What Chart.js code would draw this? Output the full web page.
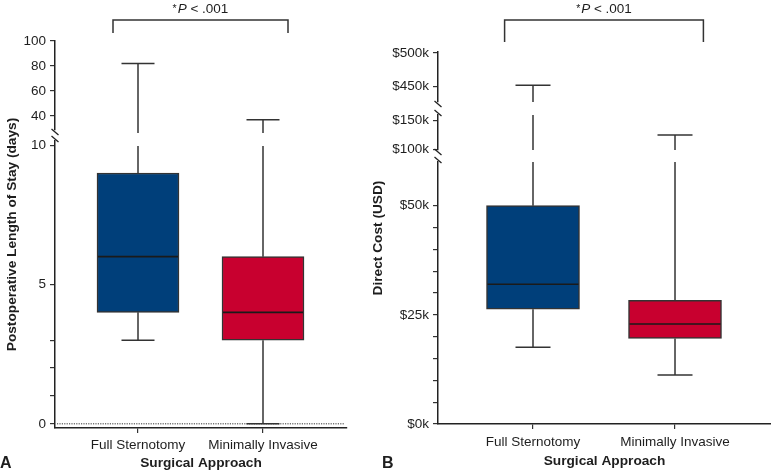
<!DOCTYPE html>
<html><head><meta charset="utf-8">
<script src="https://cdn.jsdelivr.net/npm/chart.js@4"></script>
<style>
html,body{margin:0;padding:0;background:#fff;overflow:hidden}
#wrap{position:relative;width:771px;height:473px}
.panel{position:absolute;top:0;height:473px}
#pa{left:0;width:360px}
#pb{left:360px;width:411px}
</style></head><body>
<div id="wrap"><div class="panel" id="pa"><canvas id="ca"></canvas></div><div class="panel" id="pb"><canvas id="cb"></canvas></div></div>
<script>
const categories = ['Full Sternotomy', 'Minimally Invasive'];
const boxColors = ['#003f7a', '#c8002f'];
const xTitle = 'Surgical Approach';

// Panel A – postoperative length of stay (days)
const losWhiskerLow = [3, 0];
const losQ1 = [4, 3];
const losMedian = [6, 4];
const losQ3 = [9, 6];
const losWhiskerHigh = [82, 37];
const losTicksLow = [0, 1, 2, 3, 5, 10];
const losLabelsLow = ['0', '', '', '', '5', '10'];
const losTicksTop = [40, 60, 80, 100];
const losLabelsTop = ['40', '60', '80', '100'];

// Panel B – direct cost (thousands of USD)
const costWhiskerLow = [17.6, 11.2];
const costQ1 = [26.3, 19.6];
const costMedian = [32, 22.9];
const costQ3 = [50, 28.3];
const costWhiskerHigh = [452, 125];
const costTicksLow = [0, 5, 10, 15, 20, 25, 30, 35, 40, 45, 50];
const costLabelsLow = ['$0k', '', '', '', '', '$25k', '', '', '', '', '$50k'];
const costTicksMid = [100, 150];
const costLabelsMid = ['$100k', '$150k'];
const costTicksTop = [450, 500];
const costLabelsTop = ['$450k', '$500k'];

const FAM = '"Liberation Sans", Arial, Helvetica, sans-serif';
const TXT = '#1e1e1e';
Chart.defaults.font.family = FAM;
Chart.defaults.color = TXT;

function yScale(o) {
  const has = !!o.ticks;
  const s = {
    type: 'linear', axis: 'y', position: 'left', stack: 'v', stackWeight: o.weight, weight: o.order,
    min: o.min, max: o.max, beginAtZero: false, offset: false,
    afterFit: sc => { sc.width = o.width; },
    ticks: { display: has, autoSkip: false, padding: 4, color: TXT, font: { size: 13.5 },
             callback: (v, i) => has ? o.labels[i] : '' },
    grid: { display: has, drawOnChartArea: false, drawTicks: true, tickLength: 5, color: '#333', lineWidth: 1.2, offset: false },
    border: { display: has, color: '#222', width: 1.5 }
  };
  if (has) s.afterBuildTicks = sc => { sc.ticks = o.ticks.map(v => ({ value: v })); };
  return s;
}

function xScale(min, max, pad, titlePad, h) {
  return {
    type: 'linear', position: 'bottom', min, max, offset: false,
    afterBuildTicks: sc => { sc.ticks = categories.map((c, i) => ({ value: i })); },
    afterFit: sc => { sc.height = h; },
    ticks: { callback: (v, i) => categories[i], padding: pad, autoSkip: false, maxRotation: 0, minRotation: 0, color: TXT, font: { size: 13.5 } },
    grid: { drawOnChartArea: false, tickLength: 5, color: '#333', lineWidth: 1.2, offset: false },
    border: { color: '#222', width: 1.5 },
    title: { display: true, text: xTitle, color: TXT, font: { size: 13.7, weight: 'bold' }, padding: { top: 0, bottom: titlePad } }
  };
}

function boxPlugin(cfg) {
  return {
    id: 'boxPlot' + cfg.key,
    beforeDatasetsDraw(chart) {
      if (!cfg.zeroLine) return;
      const ctx = chart.ctx, s = chart.scales[cfg.segments[0]];
      const y = s.getPixelForValue(0);
      ctx.save();
      ctx.strokeStyle = '#333'; ctx.lineWidth = 1; ctx.setLineDash([1.2, 1.2]);
      ctx.beginPath(); ctx.moveTo(chart.chartArea.left + 2, y); ctx.lineTo(chart.chartArea.right - 2, y); ctx.stroke();
      ctx.restore();
    },
    afterDatasetsDraw(chart) {
      const ctx = chart.ctx, xs = chart.scales.x;
      const segs = cfg.segments.map(id => chart.scales[id]);
      const clipOf = (s) => (cfg.whiskerClip && cfg.whiskerClip[s.id]) || [s.min, s.max];
      const vline = (cx, a, b) => segs.forEach(s => {
        const [cmin, cmax] = clipOf(s);
        const lo = Math.max(a, cmin), hi = Math.min(b, cmax);
        if (lo < hi) { ctx.beginPath(); ctx.moveTo(cx, s.getPixelForValue(lo)); ctx.lineTo(cx, s.getPixelForValue(hi)); ctx.stroke(); }
      });
      const hline = (cx, half, v) => segs.forEach(s => {
        if (v >= s.min && v <= s.max) { const y = s.getPixelForValue(v); ctx.beginPath(); ctx.moveTo(cx - half, y); ctx.lineTo(cx + half, y); ctx.stroke(); }
      });
      ctx.save();
      ctx.strokeStyle = '#333'; ctx.lineWidth = 1.5;
      categories.forEach((c, i) => {
        const cx = xs.getPixelForValue(i);
        vline(cx, cfg.q3[i], cfg.hi[i]);
        vline(cx, cfg.lo[i], cfg.q1[i]);
        hline(cx, cfg.capWidth / 2, cfg.hi[i]);
        hline(cx, cfg.capWidth / 2, cfg.lo[i]);
      });
      ctx.strokeStyle = '#1a1a1a'; ctx.lineWidth = 1.6;
      categories.forEach((c, i) => hline(xs.getPixelForValue(i), cfg.boxWidth / 2 - 1, cfg.median[i]));
      ctx.restore();
    },
    afterDraw(chart) {
      const ctx = chart.ctx, xs = chart.scales.x, ca = chart.chartArea;
      ctx.save();
      // axis breaks
      ctx.strokeStyle = '#222'; ctx.lineWidth = 1.3;
      const ax = ca.left;
      cfg.breaks.forEach(([id, end]) => {
        const s = chart.scales[id];
        const y = end === 'bottom' ? s.bottom + 2 : s.top - 2;
        ctx.beginPath(); ctx.moveTo(ax - 3.5, y - 3); ctx.lineTo(ax + 3.5, y + 3); ctx.stroke();
      });
      // significance bracket
      const x1 = xs.getPixelForValue(-0.2), x2 = xs.getPixelForValue(1.2);
      ctx.strokeStyle = '#333'; ctx.lineWidth = 1.5;
      ctx.beginPath(); ctx.moveTo(x1, cfg.bracketBottom); ctx.lineTo(x1, 20); ctx.lineTo(x2, 20); ctx.lineTo(x2, cfg.bracketBottom); ctx.stroke();
      const cx = (x1 + x2) / 2;
      ctx.fillStyle = TXT; ctx.textBaseline = 'alphabetic'; ctx.textAlign = 'left';
      const fs = '10.5px ' + FAM, fi = 'italic 13.5px ' + FAM, fr = '13.5px ' + FAM;
      ctx.font = fs; const w0 = ctx.measureText('*').width;
      ctx.font = fi; const w1 = ctx.measureText('P').width;
      ctx.font = fr; const w2 = ctx.measureText(' < .001').width;
      let tx = cx - (w0 + w1 + w2 + 1) / 2;
      ctx.font = fs; ctx.fillText('*', tx, 12); tx += w0 + 1;
      ctx.font = fi; ctx.fillText('P', tx, 13); tx += w1;
      ctx.font = fr; ctx.fillText(' < .001', tx, 13);
      // y axis title
      ctx.save();
      ctx.translate(cfg.yTitleX, (ca.top + ca.bottom) / 2);
      ctx.rotate(-Math.PI / 2);
      ctx.textAlign = 'center'; ctx.textBaseline = 'middle';
      ctx.font = 'bold 13.7px ' + FAM;
      ctx.fillText(cfg.yTitle, 0, 0);
      ctx.restore();
      // panel letter
      ctx.font = 'bold 16px ' + FAM; ctx.textAlign = 'left'; ctx.textBaseline = 'alphabetic';
      ctx.fillText(cfg.letter, cfg.letterX, 468);
      ctx.restore();
    }
  };
}

const common = {
  responsive: true, maintainAspectRatio: false, animation: false, events: [],
  plugins: { legend: { display: false }, tooltip: { enabled: false } }
};

// ---------- Panel A ----------
new Chart(document.getElementById('ca'), {
  type: 'bar',
  data: {
    datasets: [{
      data: categories.map((c, i) => ({ x: i, y: [losQ1[i], losQ3[i]] })),
      backgroundColor: boxColors, borderColor: '#333', borderWidth: 1.5, borderSkipped: false,
      barThickness: 82, yAxisID: 'yLow'
    }]
  },
  options: Object.assign({}, common, {
    layout: { padding: { top: 41, left: 0, right: 13, bottom: 0 } },
    scales: {
      x: xScale(-0.664, 1.672, 3.9, 1.8, 45),
      yLow: yScale({ min: -0.15, max: 10.15, weight: 287, order: 1, width: 55, ticks: losTicksLow, labels: losLabelsLow }),
      yGap: yScale({ min: 0, max: 1, weight: 11, order: 2, width: 55 }),
      yTop: yScale({ min: 28.8, max: 100, weight: 89, order: 3, width: 55, ticks: losTicksTop, labels: losLabelsTop })
    }
  }),
  plugins: [boxPlugin({
    key: 'A', segments: ['yLow', 'yTop'], zeroLine: true,
    q1: losQ1, q3: losQ3, median: losMedian, lo: losWhiskerLow, hi: losWhiskerHigh,
    whiskerClip: { yLow: [-0.15, 9.97], yTop: [26.5, 100] },
    capWidth: 33, boxWidth: 82, bracketBottom: 33,
    breaks: [['yTop', 'bottom'], ['yLow', 'top']],
    yTitle: 'Postoperative Length of Stay (days)', yTitleX: 12, letter: 'A', letterX: 0
  })]
});

// ---------- Panel B ----------
new Chart(document.getElementById('cb'), {
  type: 'bar',
  data: {
    datasets: [{
      data: categories.map((c, i) => ({ x: i, y: [costQ1[i], costQ3[i]] })),
      backgroundColor: boxColors, borderColor: '#333', borderWidth: 1.5, borderSkipped: false,
      barThickness: 93, yAxisID: 'yLow'
    }]
  },
  options: Object.assign({}, common, {
    layout: { padding: { top: 52, left: 0, right: 0, bottom: 0 } },
    scales: {
      x: xScale(-0.669, 1.676, 4.9, 3.8, 49),
      yLow: yScale({ min: 0, max: 60, weight: 262, order: 1, width: 78, ticks: costTicksLow, labels: costLabelsLow }),
      yGap1: yScale({ min: 0, max: 1, weight: 12, order: 2, width: 78 }),
      yMid: yScale({ min: 99, max: 160, weight: 35, order: 3, width: 78, ticks: costTicksMid, labels: costLabelsMid }),
      yGap2: yScale({ min: 0, max: 1, weight: 13, order: 4, width: 78 }),
      yTop: yScale({ min: 427, max: 501.5, weight: 50, order: 5, width: 78, ticks: costTicksTop, labels: costLabelsTop })
    }
  }),
  plugins: [boxPlugin({
    key: 'B', segments: ['yLow', 'yMid', 'yTop'], zeroLine: false,
    q1: costQ1, q3: costQ3, median: costMedian, lo: costWhiskerLow, hi: costWhiskerHigh,
    capWidth: 35, boxWidth: 93, bracketBottom: 42,
    breaks: [['yTop', 'bottom'], ['yMid', 'top'], ['yMid', 'bottom'], ['yLow', 'top']],
    yTitle: 'Direct Cost (USD)', yTitleX: 18, letter: 'B', letterX: 22
  })]
});
</script>
</body></html>
